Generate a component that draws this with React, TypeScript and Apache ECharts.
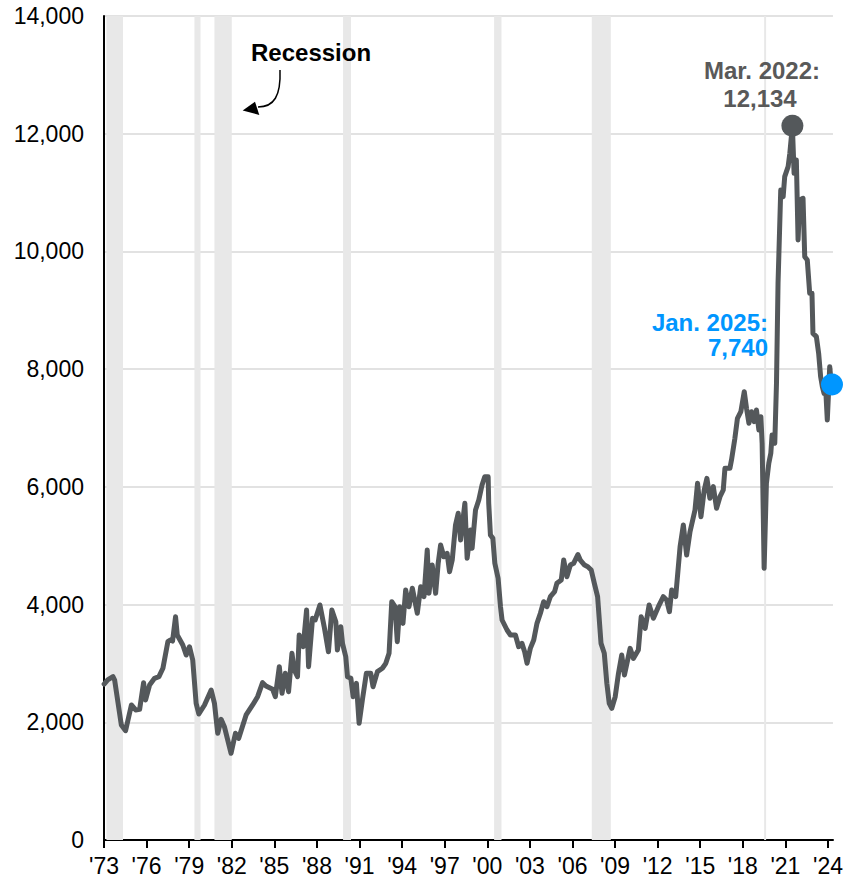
import React, { useEffect, useRef } from "react";
import * as echarts from "echarts";

// Decimal dates (calendar position) and job openings (thousands)
const dates = [
  1973.71, 1973.96, 1974.33, 1974.45, 1974.92, 1975.22, 1975.63, 1975.93, 1976.21, 1976.49,
  1976.63, 1976.91, 1977.26, 1977.57, 1977.85, 1978.2, 1978.37, 1978.53, 1978.74, 1978.86,
  1979.25, 1979.49, 1979.72, 1979.95, 1980.19, 1980.38, 1980.78, 1981.25, 1981.48, 1981.71,
  1981.95, 1982.18, 1982.65, 1982.96, 1983.19, 1983.71, 1984.17, 1984.52, 1984.87, 1985.11,
  1985.58, 1985.77, 1986.05, 1986.24, 1986.47, 1986.7, 1986.94, 1987.1, 1987.33, 1987.45,
  1987.73, 1987.97, 1988.11, 1988.39, 1988.58, 1988.91, 1989.21, 1989.51, 1989.75, 1990.03,
  1990.14, 1990.38, 1990.5, 1990.73, 1990.85, 1991.09, 1991.25, 1991.48, 1991.67, 1991.9,
  1992.18, 1992.49, 1992.65, 1992.96, 1993.31, 1993.55, 1993.78, 1993.97, 1994.2, 1994.36,
  1994.53, 1994.76, 1994.95, 1995.18, 1995.42, 1995.77, 1996.01, 1996.24, 1996.47, 1996.59,
  1996.82, 1997.06, 1997.24, 1997.41, 1997.64, 1997.87, 1998.04, 1998.23, 1998.46, 1998.65,
  1998.82, 1999.12, 1999.28, 1999.52, 1999.63, 1999.87, 2000.1, 2000.33, 2000.52, 2000.76,
  2000.8, 2000.92, 2001.09, 2001.23, 2001.46, 2001.63, 2001.74, 2002.09, 2002.33, 2002.68,
  2002.91, 2003.14, 2003.33, 2003.5, 2003.73, 2003.97, 2004.2, 2004.44, 2004.67, 2004.9,
  2005.14, 2005.44, 2005.6, 2005.91, 2006.08, 2006.31, 2006.55, 2006.78, 2007.08, 2007.25,
  2007.55, 2007.78, 2008.02, 2008.24, 2008.47, 2008.71, 2008.94, 2009.12, 2009.29, 2009.47,
  2009.71, 2009.94, 2010.17, 2010.36, 2010.76, 2010.99, 2011.34, 2011.54, 2011.82, 2012.1,
  2012.4, 2012.75, 2013.1, 2013.33, 2013.53, 2013.69, 2013.97, 2014.28, 2014.51, 2014.74,
  2014.98, 2015.33, 2015.51, 2015.75, 2015.98, 2016.17, 2016.38, 2016.62, 2016.85, 2017.09,
  2017.32, 2017.44, 2017.79, 2017.9, 2018.14, 2018.32, 2018.56, 2018.8, 2018.96, 2019.13,
  2019.31, 2019.5, 2019.66, 2019.83, 2019.97, 2020.06, 2020.2, 2020.36, 2020.53, 2020.67,
  2020.76, 2020.95, 2021.07, 2021.18, 2021.37, 2021.54, 2021.65, 2021.89, 2022.01, 2022.19,
  2022.31, 2022.47, 2022.59, 2022.71, 2022.94, 2023.06, 2023.24, 2023.41, 2023.57, 2023.64,
  2023.88, 2024.04, 2024.18, 2024.3, 2024.42, 2024.54, 2024.65, 2024.82, 2024.93, 2024.98,
];

const jobOpenings = [
  2650, 2720, 2775, 2718, 1954, 1857, 2294, 2209, 2220, 2673,
  2379, 2633, 2747, 2775, 2918, 3370, 3398, 3380, 3794, 3483,
  3313, 3143, 3284, 3058, 2322, 2141, 2294, 2548, 2322, 1813,
  2050, 1925, 1473, 1813, 1728, 2124, 2294, 2435, 2673, 2616,
  2560, 2435, 2945, 2492, 2832, 2520, 3172, 2888, 2775, 3483,
  3284, 3908, 2945, 3767, 3740, 3993, 3624, 3199, 3908, 3709,
  3228, 3624, 3341, 3114, 2775, 2747, 2435, 2662, 1983, 2379,
  2832, 2832, 2605, 2860, 2918, 3002, 3172, 4049, 3964, 3370,
  3964, 3681, 4248, 3964, 4276, 3852, 4304, 4134, 4927, 4191,
  4672, 4191, 4701, 5012, 4813, 4871, 4558, 4757, 5352, 5551,
  5097, 5721, 4786, 5267, 4956, 5607, 5777, 6031, 6172, 6172,
  5721, 5182, 5126, 4701, 4446, 3964, 3738, 3568, 3483, 3483,
  3284, 3341, 3199, 3002, 3256, 3398, 3681, 3852, 4049, 3964,
  4134, 4219, 4361, 4417, 4757, 4474, 4672, 4701, 4850, 4757,
  4672, 4644, 4587, 4361, 4134, 3341, 3172, 2662, 2322, 2237,
  2435, 2832, 3143, 2803, 3256, 3086, 3228, 3794, 3596, 3993,
  3767, 3964, 4134, 4078, 3879, 4248, 4134, 4983, 5352, 4842,
  5238, 5607, 6060, 5493, 5947, 6145, 5805, 6003, 5635, 5833,
  5947, 6315, 6315, 6456, 6825, 7164, 7277, 7617, 7335, 7080,
  7277, 7107, 7306, 6966, 7192, 6740, 4616, 6060, 6400, 6570,
  6881, 6740, 7759, 9458, 11043, 10930, 11270, 11440, 11667, 12134,
  11327, 11554, 10194, 10874, 10902, 9911, 9854, 9288, 9288, 8608,
  8552, 8269, 7872, 7702, 7589, 7646, 7136, 8042, 7759, 7740,
];

// Recession periods [start, end]
const recessionStarts = [1973.87, 1980.07, 1981.48, 1990.54, 2001.18, 2008.06, 2020.2];
const recessionEnds = [1975.04, 1980.5, 1982.7, 1991.1, 2001.7, 2009.4, 2020.34];

// Highlighted points
const peakPoint = { date: 2022.19, value: 12134, label: ["Mar. 2022:", "12,134"] };
const latestPoint = { date: 2024.98, value: 7740, label: ["Jan. 2025:", "7,740"] };

// x-axis ticks
const tickLabels = ["'73", "'76", "'79", "'82", "'85", "'88", "'91", "'94", "'97", "'00", "'03", "'06", "'09", "'12", "'15", "'18", "'21", "'24"];
const yTicks = [0, 2000, 4000, 6000, 8000, 10000, 12000, 14000];

const AXIS_START = 1973.7;
const AXIS_END = 2025.05;
const TICK_STEP = 3;

const FONT = '"Liberation Sans", Arial, Helvetica, sans-serif';
const LINE_COLOR = "#54585B";
const BLUE = "#0096FF";

export default function App() {
  const ref = useRef<HTMLDivElement>(null);

  useEffect(() => {
    if (!ref.current) return;
    const chart = echarts.init(ref.current, null, { renderer: "svg" });
    const n = Math.min(dates.length, jobOpenings.length);
    const lineData: number[][] = [];
    for (let i = 0; i < n; i++) lineData.push([dates[i] - AXIS_START, jobOpenings[i]]);
    const tickOffsets = tickLabels.map((_, i) => i * TICK_STEP);

    const textStyle = (
      text: string,
      x: number,
      y: number,
      color: string,
      align: string
    ) => ({
      type: "text",
      x,
      y,
      z: 100,
      silent: true,
      style: {
        text,
        fill: color,
        fontSize: 24,
        fontWeight: "bold",
        fontFamily: FONT,
        align,
        verticalAlign: "middle",
        textAlign: align,
        textVerticalAlign: "middle",
      },
    });

    chart.setOption({
      animation: false,
      grid: { left: 104, right: 11, top: 16, bottom: 43, containLabel: false },
      xAxis: {
        type: "value",
        min: 0,
        max: AXIS_END - AXIS_START,
        axisLine: { show: true, onZero: false, lineStyle: { color: "#000", width: 2 } },
        axisTick: {
          show: true,
          customValues: tickOffsets,
          length: 8,
          lineStyle: { color: "#000", width: 2 },
        },
        axisLabel: {
          customValues: tickOffsets,
          formatter: (v: number) => tickLabels[Math.round(v / TICK_STEP)] ?? "",
          fontSize: 23,
          color: "#000",
          fontFamily: FONT,
          margin: 14,
        },
        splitLine: { show: false },
      },
      yAxis: {
        type: "value",
        min: 0,
        max: 14000,
        interval: 2000,
        axisLine: { show: true, lineStyle: { color: "#000", width: 2 } },
        axisTick: { show: false },
        axisLabel: {
          customValues: yTicks,
          fontSize: 23,
          color: "#000",
          fontFamily: FONT,
          margin: 20,
          formatter: (v: number) => v.toLocaleString("en-US"),
        },
        splitLine: { show: true, lineStyle: { color: "#D9D9D9", width: 1.5 } },
      },
      series: [
        {
          type: "line",
          data: [],
          z: 1,
          silent: true,
          markArea: {
            silent: true,
            itemStyle: { color: "#E8E8E8" },
            data: recessionStarts.map((s, i) => [
              { xAxis: s - AXIS_START },
              { xAxis: recessionEnds[i] - AXIS_START },
            ]),
          },
        },
        {
          type: "line",
          data: lineData,
          z: 3,
          showSymbol: false,
          symbol: "none",
          lineStyle: { color: LINE_COLOR, width: 5, join: "round", cap: "round" },
        },
        {
          type: "scatter",
          z: 4,
          symbolSize: 22,
          itemStyle: { opacity: 1 },
          data: [
            { value: [peakPoint.date - AXIS_START, peakPoint.value], itemStyle: { color: LINE_COLOR, opacity: 1 } },
            { value: [latestPoint.date - AXIS_START, latestPoint.value], itemStyle: { color: BLUE, opacity: 1 } },
          ],
        },
      ],
      graphic: [
        textStyle("Recession", 251, 52, "#000", "left"),
        {
          type: "bezierCurve",
          z: 100,
          silent: true,
          shape: { x1: 280, y1: 70, x2: 258, y2: 107, cpx1: 281, cpy1: 96, cpx2: 274, cpy2: 107 },
          style: { stroke: "#000", lineWidth: 1.5, fill: null },
        },
        {
          type: "polygon",
          z: 100,
          silent: true,
          shape: { points: [[242.7, 110.5], [255, 101.7], [259.3, 115]] },
          style: { fill: "#000" },
        },
        textStyle(peakPoint.label[0], 762, 70, "#595959", "center"),
        textStyle(peakPoint.label[1], 760, 98, "#595959", "center"),
        textStyle(latestPoint.label[0], 768, 322, BLUE, "right"),
        textStyle(latestPoint.label[1], 768, 347, BLUE, "right"),
      ],
    });
    return () => chart.dispose();
  }, []);

  return (
    <div
      ref={ref}
      style={{ position: "absolute", left: 0, top: 0, width: 846, height: 883 }}
    />
  );
}
